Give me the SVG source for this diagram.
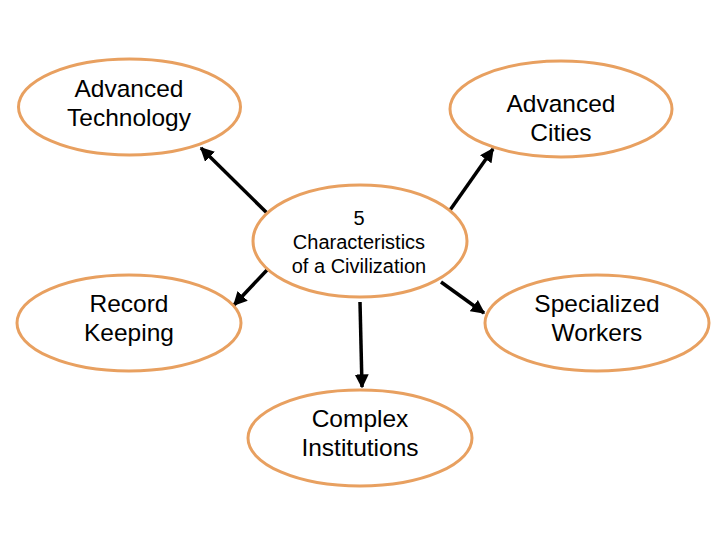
<svg xmlns="http://www.w3.org/2000/svg" width="720" height="540" viewBox="0 0 720 540">
<defs>
<style>
.node ellipse{fill:#fff;stroke:#E8A060;stroke-width:3}
.node text{font-family:"Liberation Sans",Arial,sans-serif;font-size:24.5px;fill:#000;text-anchor:middle}
.node.center text{font-size:20px}
.conn line{stroke:#000;stroke-width:3.5}
</style>
<marker id="ah" viewBox="0 0 10 10" refX="9" refY="5" markerWidth="4" markerHeight="4" orient="auto" markerUnits="strokeWidth">
<path d="M0,0 L10,5 L0,10 z" fill="#000"/>
</marker>
</defs>
<rect width="720" height="540" fill="#fff"/>
<g id="connectors" class="conn">
<line x1="267" y1="213" x2="201" y2="148" marker-end="url(#ah)"/>
<line x1="448" y1="213" x2="493" y2="149" marker-end="url(#ah)"/>
<line x1="267" y1="270" x2="234" y2="305" marker-end="url(#ah)"/>
<line x1="441" y1="282" x2="484" y2="313" marker-end="url(#ah)"/>
<line x1="360" y1="302" x2="362" y2="387" marker-end="url(#ah)"/>
</g>
<g id="tech" class="node"><ellipse cx="129.5" cy="107" rx="111" ry="48"/><text x="129" y="97">Advanced</text><text x="129" y="126">Technology</text></g>
<g id="cities" class="node"><ellipse cx="561" cy="109" rx="111" ry="48"/><text x="561" y="112">Advanced</text><text x="561" y="141">Cities</text></g>
<g id="center" class="node center"><ellipse cx="360" cy="241" rx="107" ry="56"/><text x="359" y="225">5</text><text x="359" y="249">Characteristics</text><text x="359" y="273">of a Civilization</text></g>
<g id="record" class="node"><ellipse cx="129" cy="323" rx="112" ry="48"/><text x="129" y="312">Record</text><text x="129" y="341">Keeping</text></g>
<g id="workers" class="node"><ellipse cx="597" cy="323" rx="112" ry="48"/><text x="597" y="312">Specialized</text><text x="597" y="341">Workers</text></g>
<g id="institutions" class="node"><ellipse cx="360" cy="438" rx="112" ry="48"/><text x="360" y="427">Complex</text><text x="360" y="456">Institutions</text></g>
</svg>
